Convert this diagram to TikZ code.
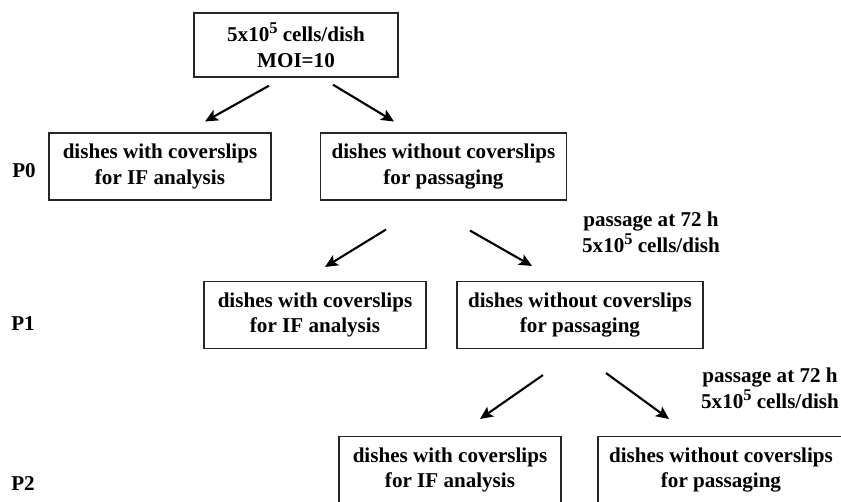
\documentclass[tikz,border=0pt]{standalone}
\usepackage{fontspec}
\setmainfont{Liberation Serif}
\usepackage{tikz}
\usetikzlibrary{arrows.meta}
\newcommand{\supfive}{\raisebox{0.38em}{\fontsize{14}{14}\selectfont 5}}
\tikzset{box/.style = {draw=black!85, line width=1.2pt, align=center, inner sep=0pt,
                       font=\fontsize{18}{22}\selectfont\bfseries},
         boxa/.style = {box, minimum width=6.66cm, minimum height=2cm},
         boxb/.style = {box, minimum width=7.38cm, minimum height=2cm},
         lbl/.style = {align=center, font=\fontsize{18}{22}\selectfont\bfseries},
         arr/.style = {line width=1.8pt, -{Stealth[length=11pt, width=10pt, inset=2.5pt]}}}

\begin{document}
\begin{tikzpicture}[x=0.03cm, y=-0.03cm]
            \clip (0,0) rectangle (841,501);

            \node [box, minimum width=6.12cm, minimum height=1.92cm] (top) at (296,45) {5x10\supfive{} cells/dish\\MOI=10};

            \node [lbl] (p0) at (24,171) {P0};
            \node [boxa] (a1) at (160,166.5) {dishes with coverslips\\for IF analysis};
            \node [boxb] (b1) at (443.5,166.5) {dishes without coverslips\\for passaging};

            \node [lbl] (s1) at (651,232) {passage at 72 h\\5x10\supfive{} cells/dish};

            \node [lbl] (p1) at (23,324) {P1};
            \node [boxa] (a2) at (315,315) {dishes with coverslips\\for IF analysis};
            \node [boxb] (b2) at (580,315) {dishes without coverslips\\for passaging};

            \node [lbl] (s2) at (770,388) {passage at 72 h\\5x10\supfive{} cells/dish};

            \node [lbl] (p2) at (23,484) {P2};
            \node [boxa] (a3) at (450,470) {dishes with coverslips\\for IF analysis};
            \node [boxb] (b3) at (721,470) {dishes without coverslips\\for passaging};

            \draw [arr] ([shift={(-27,8)}]top.south) -- ([shift={(45,-11)}]a1.north);
            \draw [arr] ([shift={(37,7)}]top.south) -- ([shift={(-49.5,-11)}]b1.north);
            \draw [arr] ([shift={(-57.5,29)}]b1.south) -- ([shift={(10,-14)}]a2.north);
            \draw [arr] ([shift={(26.5,30)}]b1.south) -- ([shift={(-48,-15)}]b2.north);
            \draw [arr] ([shift={(-37,26)}]b2.south) -- ([shift={(30,-17)}]a3.north);
            \draw [arr] ([shift={(26,24)}]b2.south) -- ([shift={(-52,-17)}]b3.north);
        \end{tikzpicture}
\end{document}
